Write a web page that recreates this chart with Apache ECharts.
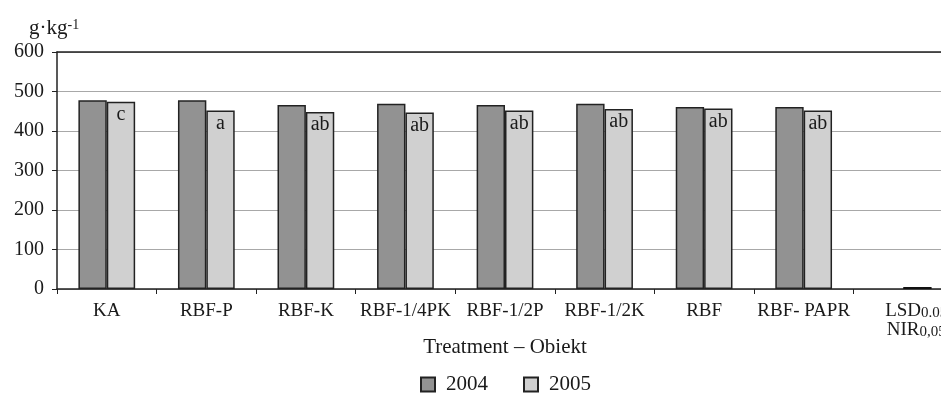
<!DOCTYPE html>
<html>
<head>
<meta charset="utf-8">
<script src="https://cdn.jsdelivr.net/npm/echarts@6/dist/echarts.min.js"></script>
<style>html,body{margin:0;padding:0;background:#fff}#c{width:941px;height:394px}</style>
</head>
<body>
<div id="c"></div>
<script>
var categories = ['KA', 'RBF-P', 'RBF-K', 'RBF-1/4PK', 'RBF-1/2P', 'RBF-1/2K', 'RBF', 'RBF- PAPR', 'LSD'];
var values2004 = [478, 478, 466, 469, 466, 469, 461, 461, null];
var values2005 = [474, 452, 448, 447, 452, 456, 457, 452, 5];
var letters2005 = ['c', 'a', 'ab', 'ab', 'ab', 'ab', 'ab', 'ab', ''];
var yTicks = [0, 100, 200, 300, 400, 500, 600];

var FONT = '"Liberation Serif", "DejaVu Serif", serif';
var TXT = '#1a1a1a';
var chart = echarts.init(document.getElementById('c'), null, {renderer: 'canvas'});

var data2005 = values2005.map(function (v, i) {
  var d = {value: v};
  if (i === categories.length - 1) {
    d.itemStyle = {color: '#111', borderColor: '#111'};
  }
  return d;
});

chart.setOption({
  animation: false,
  textStyle: {fontFamily: FONT, color: TXT},
  title: {
    text: 'g·kg{sup|-1}',
    left: 24, top: 13,
    textStyle: {
      fontFamily: FONT, fontSize: 21, fontWeight: 'normal', color: TXT,
      rich: {sup: {fontFamily: FONT, fontSize: 14, color: TXT, verticalAlign: 'top', lineHeight: 14}}
    }
  },
  legend: {
    top: 369, left: 415,
    itemWidth: 14, itemHeight: 14, itemGap: 35,
    icon: 'rect',
    textStyle: {fontFamily: FONT, fontSize: 21, color: TXT, padding: [2, 0, 0, 6]},
    data: ['2004', '2005']
  },
  grid: {left: 57, top: 52, width: 896, bottom: 105, containLabel: false, outerBoundsMode: 'none'},
  xAxis: [{
    type: 'category',
    data: categories,
    name: 'Treatment – Obiekt',
    nameLocation: 'middle',
    nameGap: 48,
    nameMoveOverlap: false,
    nameTextStyle: {fontFamily: FONT, fontSize: 21, color: TXT},
    axisLine: {lineStyle: {color: '#222', width: 1.5}},
    axisTick: {show: true, alignWithLabel: false, length: 5, lineStyle: {color: '#222'}},
    axisLabel: {
      interval: 0, margin: 13, fontFamily: FONT, fontSize: 19, color: TXT,
      formatter: function (v) {
        if (v === 'LSD') return '{p|}{m|LSD}{s|0.05}\n{p|}{m|NIR}{s|0,05}';
        return v;
      },
      rich: {
        p: {width: 26},
        m: {fontFamily: FONT, fontSize: 19, color: TXT, lineHeight: 18},
        s: {fontFamily: FONT, fontSize: 15, color: TXT, lineHeight: 6, verticalAlign: 'bottom'}
      }
    }
  }, {
    type: 'category',
    data: categories,
    position: 'top',
    axisLine: {show: true, lineStyle: {color: '#222', width: 1.5}},
    axisTick: {show: false},
    axisLabel: {show: false}
  }],
  yAxis: {
    type: 'value',
    min: yTicks[0], max: yTicks[yTicks.length - 1], interval: 100,
    axisLine: {show: true, lineStyle: {color: '#222', width: 1.5}},
    axisTick: {show: true, length: 5, lineStyle: {color: '#222'}},
    axisLabel: {fontFamily: FONT, fontSize: 20, color: TXT, margin: 13},
    splitLine: {lineStyle: {color: '#a8a8a8', width: 1.2}}
  },
  series: [{
    name: '2004', type: 'bar', data: values2004,
    barGap: '0%', barCategoryGap: '43%',
    itemStyle: {color: '#929292', borderColor: '#222', borderWidth: 1.5}
  }, {
    name: '2005', type: 'bar', data: data2005,
    barGap: '0%', barCategoryGap: '43%',
    itemStyle: {color: '#d0d0d0', borderColor: '#222', borderWidth: 1.5},
    label: {
      show: true, position: 'insideTop', distance: 3,
      fontFamily: FONT, fontSize: 20, color: TXT,
      formatter: function (p) { return letters2005[p.dataIndex]; }
    }
  }]
});
</script>
</body>
</html>
